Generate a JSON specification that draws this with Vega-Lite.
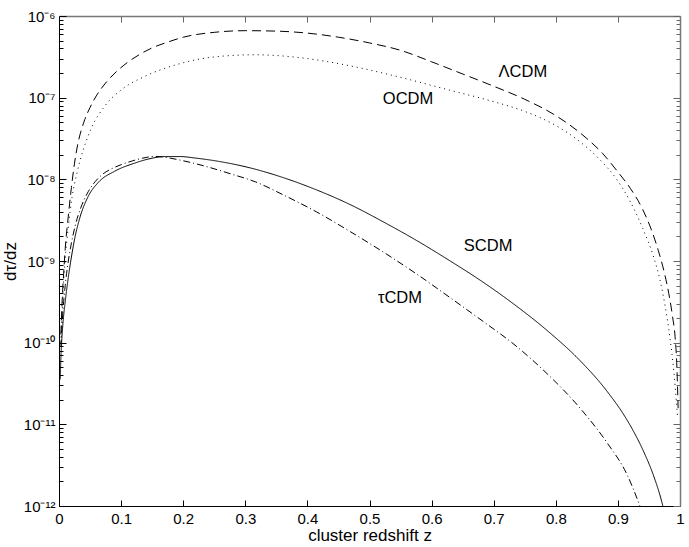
{
  "$schema": "https://vega.github.io/schema/vega-lite/v6.json",
  "width": 621,
  "height": 490,
  "autosize": "none",
  "padding": {"left": 59, "top": 16, "right": 9, "bottom": 41},
  "background": "white",
  "config": {
    "view": {"stroke": null},
    "font": "Liberation Sans",
    "axis": {
      "labelFont": "Liberation Sans",
      "labelFontSize": 15,
      "labelColor": "black",
      "titleFont": "Liberation Sans",
      "titleFontSize": 17,
      "titleFontWeight": "normal",
      "titleColor": "black",
      "tickColor": "black",
      "domainColor": "black",
      "grid": false,
      "labelFlush": false,
      "labelOverlap": false
    }
  },
  "datasets": {
    "curves": [
      {"model": "LCDM", "z": 0.003, "v": 1.26e-10},
      {"model": "LCDM", "z": 0.005, "v": 3.16e-10},
      {"model": "LCDM", "z": 0.0075, "v": 7.08e-10},
      {"model": "LCDM", "z": 0.01, "v": 1.41e-9},
      {"model": "LCDM", "z": 0.015, "v": 3.55e-9},
      {"model": "LCDM", "z": 0.02, "v": 7.94e-9},
      {"model": "LCDM", "z": 0.025, "v": 1.58e-8},
      {"model": "LCDM", "z": 0.03, "v": 2.63e-8},
      {"model": "LCDM", "z": 0.04, "v": 5.01e-8},
      {"model": "LCDM", "z": 0.05, "v": 7.59e-8},
      {"model": "LCDM", "z": 0.06, "v": 1.05e-7},
      {"model": "LCDM", "z": 0.075, "v": 1.51e-7},
      {"model": "LCDM", "z": 0.09, "v": 2.0e-7},
      {"model": "LCDM", "z": 0.11, "v": 2.69e-7},
      {"model": "LCDM", "z": 0.13, "v": 3.39e-7},
      {"model": "LCDM", "z": 0.15, "v": 4.07e-7},
      {"model": "LCDM", "z": 0.175, "v": 4.79e-7},
      {"model": "LCDM", "z": 0.2, "v": 5.5e-7},
      {"model": "LCDM", "z": 0.25, "v": 6.31e-7},
      {"model": "LCDM", "z": 0.3, "v": 6.61e-7},
      {"model": "LCDM", "z": 0.35, "v": 6.53e-7},
      {"model": "LCDM", "z": 0.4, "v": 6.17e-7},
      {"model": "LCDM", "z": 0.45, "v": 5.5e-7},
      {"model": "LCDM", "z": 0.5, "v": 4.68e-7},
      {"model": "LCDM", "z": 0.55, "v": 3.8e-7},
      {"model": "LCDM", "z": 0.6, "v": 2.75e-7},
      {"model": "LCDM", "z": 0.65, "v": 1.95e-7},
      {"model": "LCDM", "z": 0.7, "v": 1.38e-7},
      {"model": "LCDM", "z": 0.75, "v": 9.55e-8},
      {"model": "LCDM", "z": 0.8, "v": 6.03e-8},
      {"model": "LCDM", "z": 0.85, "v": 3.16e-8},
      {"model": "LCDM", "z": 0.875, "v": 2.09e-8},
      {"model": "LCDM", "z": 0.9, "v": 1.23e-8},
      {"model": "LCDM", "z": 0.92, "v": 7.76e-9},
      {"model": "LCDM", "z": 0.94, "v": 4.27e-9},
      {"model": "LCDM", "z": 0.955, "v": 2.29e-9},
      {"model": "LCDM", "z": 0.965, "v": 1.35e-9},
      {"model": "LCDM", "z": 0.975, "v": 7.08e-10},
      {"model": "LCDM", "z": 0.982, "v": 3.98e-10},
      {"model": "LCDM", "z": 0.988, "v": 2.09e-10},
      {"model": "LCDM", "z": 0.992, "v": 1.2e-10},
      {"model": "LCDM", "z": 0.995, "v": 5.01e-11},
      {"model": "LCDM", "z": 0.997, "v": 1.58e-11},

      {"model": "OCDM", "z": 0.003, "v": 1.0e-10},
      {"model": "OCDM", "z": 0.006, "v": 3.55e-10},
      {"model": "OCDM", "z": 0.0097, "v": 1.0e-9},
      {"model": "OCDM", "z": 0.0145, "v": 2.4e-9},
      {"model": "OCDM", "z": 0.021, "v": 6.03e-9},
      {"model": "OCDM", "z": 0.029, "v": 1.2e-8},
      {"model": "OCDM", "z": 0.039, "v": 2.29e-8},
      {"model": "OCDM", "z": 0.053, "v": 4.37e-8},
      {"model": "OCDM", "z": 0.074, "v": 7.94e-8},
      {"model": "OCDM", "z": 0.101, "v": 1.26e-7},
      {"model": "OCDM", "z": 0.138, "v": 1.82e-7},
      {"model": "OCDM", "z": 0.187, "v": 2.51e-7},
      {"model": "OCDM", "z": 0.251, "v": 3.16e-7},
      {"model": "OCDM", "z": 0.316, "v": 3.35e-7},
      {"model": "OCDM", "z": 0.388, "v": 3.09e-7},
      {"model": "OCDM", "z": 0.469, "v": 2.45e-7},
      {"model": "OCDM", "z": 0.549, "v": 1.78e-7},
      {"model": "OCDM", "z": 0.63, "v": 1.23e-7},
      {"model": "OCDM", "z": 0.705, "v": 8.71e-8},
      {"model": "OCDM", "z": 0.747, "v": 6.92e-8},
      {"model": "OCDM", "z": 0.802, "v": 4.47e-8},
      {"model": "OCDM", "z": 0.839, "v": 2.88e-8},
      {"model": "OCDM", "z": 0.871, "v": 1.74e-8},
      {"model": "OCDM", "z": 0.899, "v": 9.77e-9},
      {"model": "OCDM", "z": 0.919, "v": 5.5e-9},
      {"model": "OCDM", "z": 0.94, "v": 2.51e-9},
      {"model": "OCDM", "z": 0.957, "v": 1.15e-9},
      {"model": "OCDM", "z": 0.968, "v": 5.75e-10},
      {"model": "OCDM", "z": 0.976, "v": 2.82e-10},
      {"model": "OCDM", "z": 0.984, "v": 1.12e-10},
      {"model": "OCDM", "z": 0.99, "v": 4.47e-11},
      {"model": "OCDM", "z": 0.996, "v": 1.26e-11},

      {"model": "SCDM", "z": 0.002, "v": 3.55e-11},
      {"model": "SCDM", "z": 0.003, "v": 6.31e-11},
      {"model": "SCDM", "z": 0.006, "v": 1.58e-10},
      {"model": "SCDM", "z": 0.01, "v": 3.16e-10},
      {"model": "SCDM", "z": 0.015, "v": 6.31e-10},
      {"model": "SCDM", "z": 0.02, "v": 1.12e-9},
      {"model": "SCDM", "z": 0.026, "v": 2.0e-9},
      {"model": "SCDM", "z": 0.034, "v": 3.47e-9},
      {"model": "SCDM", "z": 0.047, "v": 6.17e-9},
      {"model": "SCDM", "z": 0.063, "v": 9.12e-9},
      {"model": "SCDM", "z": 0.09, "v": 1.26e-8},
      {"model": "SCDM", "z": 0.122, "v": 1.58e-8},
      {"model": "SCDM", "z": 0.145, "v": 1.78e-8},
      {"model": "SCDM", "z": 0.171, "v": 1.9e-8},
      {"model": "SCDM", "z": 0.195, "v": 1.9e-8},
      {"model": "SCDM", "z": 0.22, "v": 1.82e-8},
      {"model": "SCDM", "z": 0.265, "v": 1.62e-8},
      {"model": "SCDM", "z": 0.308, "v": 1.38e-8},
      {"model": "SCDM", "z": 0.361, "v": 1.05e-8},
      {"model": "SCDM", "z": 0.415, "v": 7.41e-9},
      {"model": "SCDM", "z": 0.469, "v": 4.9e-9},
      {"model": "SCDM", "z": 0.522, "v": 3.02e-9},
      {"model": "SCDM", "z": 0.576, "v": 1.78e-9},
      {"model": "SCDM", "z": 0.63, "v": 1.0e-9},
      {"model": "SCDM", "z": 0.683, "v": 5.5e-10},
      {"model": "SCDM", "z": 0.731, "v": 3.02e-10},
      {"model": "SCDM", "z": 0.786, "v": 1.41e-10},
      {"model": "SCDM", "z": 0.839, "v": 6.03e-11},
      {"model": "SCDM", "z": 0.882, "v": 2.57e-11},
      {"model": "SCDM", "z": 0.915, "v": 1.12e-11},
      {"model": "SCDM", "z": 0.94, "v": 4.9e-12},
      {"model": "SCDM", "z": 0.957, "v": 2.4e-12},
      {"model": "SCDM", "z": 0.971, "v": 1.1e-12},
      {"model": "SCDM", "z": 0.974, "v": 8.9e-13},

      {"model": "tCDM", "z": 0.003, "v": 8.9e-11},
      {"model": "tCDM", "z": 0.006, "v": 2.24e-10},
      {"model": "tCDM", "z": 0.01, "v": 5.01e-10},
      {"model": "tCDM", "z": 0.015, "v": 1.0e-9},
      {"model": "tCDM", "z": 0.02, "v": 1.66e-9},
      {"model": "tCDM", "z": 0.026, "v": 2.69e-9},
      {"model": "tCDM", "z": 0.035, "v": 4.47e-9},
      {"model": "tCDM", "z": 0.045, "v": 6.61e-9},
      {"model": "tCDM", "z": 0.058, "v": 9.33e-9},
      {"model": "tCDM", "z": 0.07, "v": 1.15e-8},
      {"model": "tCDM", "z": 0.085, "v": 1.35e-8},
      {"model": "tCDM", "z": 0.1, "v": 1.51e-8},
      {"model": "tCDM", "z": 0.118, "v": 1.68e-8},
      {"model": "tCDM", "z": 0.135, "v": 1.82e-8},
      {"model": "tCDM", "z": 0.155, "v": 1.91e-8},
      {"model": "tCDM", "z": 0.175, "v": 1.84e-8},
      {"model": "tCDM", "z": 0.195, "v": 1.72e-8},
      {"model": "tCDM", "z": 0.235, "v": 1.45e-8},
      {"model": "tCDM", "z": 0.276, "v": 1.17e-8},
      {"model": "tCDM", "z": 0.316, "v": 9.33e-9},
      {"model": "tCDM", "z": 0.361, "v": 6.46e-9},
      {"model": "tCDM", "z": 0.415, "v": 3.98e-9},
      {"model": "tCDM", "z": 0.469, "v": 2.29e-9},
      {"model": "tCDM", "z": 0.522, "v": 1.29e-9},
      {"model": "tCDM", "z": 0.576, "v": 6.92e-10},
      {"model": "tCDM", "z": 0.63, "v": 3.55e-10},
      {"model": "tCDM", "z": 0.683, "v": 1.82e-10},
      {"model": "tCDM", "z": 0.731, "v": 9.77e-11},
      {"model": "tCDM", "z": 0.786, "v": 4.17e-11},
      {"model": "tCDM", "z": 0.839, "v": 1.58e-11},
      {"model": "tCDM", "z": 0.882, "v": 6.03e-12},
      {"model": "tCDM", "z": 0.915, "v": 2.4e-12},
      {"model": "tCDM", "z": 0.934, "v": 1.07e-12},
      {"model": "tCDM", "z": 0.937, "v": 9.3e-13}
    ],
    "labels": [
      {"label": "ΛCDM", "z": 0.747, "v": 2.07e-7},
      {"label": "OCDM", "z": 0.562, "v": 9.6e-8},
      {"label": "SCDM", "z": 0.691, "v": 1.53e-9},
      {"label": "τCDM", "z": 0.549, "v": 3.5e-10}
    ]
  },
  "resolve": {"axis": {"x": "independent", "y": "independent"}},
  "layer": [
    {
      "data": {"name": "curves"},
      "mark": {"type": "line", "clip": true, "strokeWidth": 1, "color": "black", "interpolate": "monotone"},
      "encoding": {
        "x": {
          "field": "z", "type": "quantitative",
          "scale": {"domain": [0, 1], "nice": false, "zero": false},
          "axis": {
            "orient": "bottom",
            "title": "cluster redshift z",
            "values": [0, 0.1, 0.2, 0.3, 0.4, 0.5, 0.6, 0.7, 0.8, 0.9, 1],
            "format": "~g",
            "tickSize": -6,
            "labelPadding": 11,
            "titlePadding": 1
          }
        },
        "y": {
          "field": "v", "type": "quantitative",
          "scale": {"type": "log", "domain": [1e-12, 1e-6], "nice": false},
          "axis": {
            "orient": "left",
            "title": "dτ/dz",
            "titlePadding": 4,
            "values": [1e-12, 2e-12, 3e-12, 4e-12, 5e-12, 6e-12, 7e-12, 8e-12, 9e-12,
                       1e-11, 2e-11, 3e-11, 4e-11, 5e-11, 6e-11, 7e-11, 8e-11, 9e-11,
                       1e-10, 2e-10, 3e-10, 4e-10, 5e-10, 6e-10, 7e-10, 8e-10, 9e-10,
                       1e-9, 2e-9, 3e-9, 4e-9, 5e-9, 6e-9, 7e-9, 8e-9, 9e-9,
                       1e-8, 2e-8, 3e-8, 4e-8, 5e-8, 6e-8, 7e-8, 8e-8, 9e-8,
                       1e-7, 2e-7, 3e-7, 4e-7, 5e-7, 6e-7, 7e-7, 8e-7, 9e-7, 1e-6],
            "labelExpr": "abs(log(datum.value)/LN10 - round(log(datum.value)/LN10)) > 0.01 ? '' : '10' + ['⁻¹²','⁻¹¹','⁻¹⁰','⁻⁹','⁻⁸','⁻⁷','⁻⁶'][round(log(datum.value)/LN10) + 12]",
            "tickSize": {"condition": {"test": "abs(log(datum.value)/LN10 - round(log(datum.value)/LN10)) < 0.01", "value": -7}, "value": -4},
            "labelPadding": 11
          }
        },
        "strokeDash": {
          "field": "model", "type": "nominal", "legend": null,
          "scale": {
            "domain": ["LCDM", "OCDM", "SCDM", "tCDM"],
            "range": [[9, 5], [1, 4], [1, 0], [7, 3, 1, 3]]
          }
        },
        "detail": {"field": "model"}
      }
    },
    {
      "data": {"name": "labels"},
      "mark": {"type": "text", "fontSize": 16.5, "font": "Liberation Sans", "color": "black"},
      "encoding": {
        "x": {"field": "z", "type": "quantitative", "axis": null},
        "y": {"field": "v", "type": "quantitative", "scale": {"type": "log"}, "axis": null},
        "text": {"field": "label"}
      }
    },
    {
      "data": {"name": "labels"},
      "mark": {"type": "point", "opacity": 0},
      "encoding": {
        "x": {
          "field": "z", "type": "quantitative",
          "axis": {
            "orient": "top", "title": null, "labels": false,
            "values": [0, 0.1, 0.2, 0.3, 0.4, 0.5, 0.6, 0.7, 0.8, 0.9, 1],
            "tickSize": -6, "tickColor": "#666", "domainColor": "#777", "domainWidth": 1.5
          }
        },
        "y": {
          "field": "v", "type": "quantitative", "scale": {"type": "log"},
          "axis": {
            "orient": "right", "title": null, "labels": false,
            "values": [1e-12, 2e-12, 3e-12, 4e-12, 5e-12, 6e-12, 7e-12, 8e-12, 9e-12,
                       1e-11, 2e-11, 3e-11, 4e-11, 5e-11, 6e-11, 7e-11, 8e-11, 9e-11,
                       1e-10, 2e-10, 3e-10, 4e-10, 5e-10, 6e-10, 7e-10, 8e-10, 9e-10,
                       1e-9, 2e-9, 3e-9, 4e-9, 5e-9, 6e-9, 7e-9, 8e-9, 9e-9,
                       1e-8, 2e-8, 3e-8, 4e-8, 5e-8, 6e-8, 7e-8, 8e-8, 9e-8,
                       1e-7, 2e-7, 3e-7, 4e-7, 5e-7, 6e-7, 7e-7, 8e-7, 9e-7, 1e-6],
            "tickSize": {"condition": {"test": "abs(log(datum.value)/LN10 - round(log(datum.value)/LN10)) < 0.01", "value": -7}, "value": -4},
            "tickColor": "#666", "domainColor": "#777", "domainWidth": 1.5
          }
        }
      }
    }
  ]
}
